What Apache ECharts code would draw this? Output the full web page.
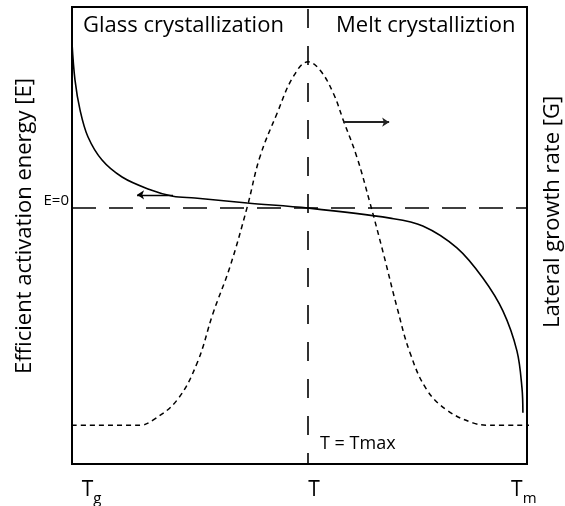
<!DOCTYPE html>
<html>
<head>
<meta charset="utf-8">
<script src="https://cdn.jsdelivr.net/npm/echarts@6/dist/echarts.min.js"></script>
<style>
  html, body { margin: 0; padding: 0; background: #fff; }
  #chart { width: 565px; height: 506px; }
</style>
</head>
<body>
<div id="chart"></div>
<script>
// Temperature on a reduced scale: 0 = Tg, 100 = Tm. Both curves use 0..100 units.
const energyTemp = [0, 0.66, 1.76, 3.5, 6.6, 11.0, 16.7, 22.2, 27.0, 38.5, 51.9, 69.9, 77.1, 84.6, 90.3, 94.7, 97.8, 98.9, 99.1];
const energyValue = [92.1, 84.0, 77.5, 71.6, 66.5, 62.8, 60.2, 58.6, 58.2, 57.1, 56.0, 53.8, 52.1, 47.3, 40.7, 33.5, 24.7, 16.6, 11.2];

const growthTemp = [0, 14.9, 17.8, 23.1, 27.5, 31.0, 34.7, 38.5, 41.3, 45.1, 48.6, 51.9, 54.5, 57.4, 59.6, 62.6, 65.5, 68.4, 71.4, 74.3, 78.0, 82.4, 88.1, 91.9, 101.8];
const growthValue = [8.5, 8.5, 9.6, 14.0, 22.1, 33.0, 43.1, 56.2, 67.2, 76.8, 84.7, 88.0, 86.2, 81.2, 75.3, 67.2, 57.1, 46.2, 34.4, 24.3, 16.2, 11.8, 9.0, 8.5, 8.5];

const T_MAX = 51.9;      // temperature of maximum growth rate
const E_ZERO = 56.0;     // level where the efficient activation energy is zero

const xTickValues = [4.3, 53.2, 99.3];
const xTickLabels = ['{t|T}{s|g}', '{t|T}', '{t|T}{s|m}'];

// Direction arrows: which axis each curve belongs to
const arrowToEnergy = [[22.2, 58.9], [14.3, 58.9]];
const arrowToGrowth = [[59.6, 74.8], [69.7, 74.8]];

const FONT = '"Open Sans", "Noto Sans", sans-serif';

const chart = echarts.init(document.getElementById('chart'), null, { renderer: 'canvas' });

const zip = (xs, ys) => xs.map((x, i) => [x, ys[i]]);

chart.setOption({
  animation: false,
  backgroundColor: '#fff',
  grid: {
    left: 72, right: 38, top: 7, bottom: 42,
    show: true, borderColor: '#000', borderWidth: 2, backgroundColor: 'transparent'
  },
  xAxis: {
    type: 'value', min: 0, max: 100,
    axisLine: { show: false }, axisTick: { show: false }, splitLine: { show: false },
    axisLabel: {
      customValues: xTickValues,
      margin: 20,
      formatter: (v) => xTickLabels[xTickValues.indexOf(v)],
      rich: {
        t: { fontFamily: FONT, fontSize: 21, color: '#000', lineHeight: 22, verticalAlign: 'bottom', padding: [0, 0, 5, 0] },
        s: { fontFamily: FONT, fontSize: 15, color: '#000', lineHeight: 16, verticalAlign: 'bottom' }
      }
    }
  },
  yAxis: [
    {
      type: 'value', min: 0, max: 100,
      axisLine: { show: false }, axisTick: { show: false }, splitLine: { show: false },
      axisLabel: {
        customValues: [E_ZERO], formatter: () => 'E=0', margin: 3,
        fontFamily: FONT, fontSize: 15, color: '#000', verticalAlign: 'bottom'
      }
    },
    {
      type: 'value', min: 0, max: 100, position: 'right',
      axisLine: { show: false }, axisTick: { show: false }, splitLine: { show: false },
      axisLabel: { show: false }
    }
  ],
  series: [
    {
      name: 'Efficient activation energy',
      type: 'line', yAxisIndex: 0,
      data: zip(energyTemp, energyValue),
      smooth: 0.35, showSymbol: false,
      lineStyle: { color: '#000', width: 1.6 },
      markLine: {
        silent: true, symbol: 'none', animation: false,
        label: { show: false },
        data: [
          { yAxis: E_ZERO, lineStyle: { color: '#000', width: 1.6, type: [24, 13] } },
          { xAxis: T_MAX, lineStyle: { color: '#000', width: 1.6, type: [19, 18], dashOffset: 8 } }
        ]
      },
      z: 3
    },
    {
      name: 'Lateral growth rate',
      type: 'line', yAxisIndex: 1, clip: false,
      data: zip(growthTemp, growthValue),
      smooth: 0.4, showSymbol: false,
      lineStyle: { color: '#000', width: 1.5, type: [5, 4] },
      z: 3
    },
    {
      type: 'lines', coordinateSystem: 'cartesian2d', yAxisIndex: 0,
      symbol: ['none', 'arrow'], symbolSize: 7,
      lineStyle: { color: '#000', width: 1.3, opacity: 1 },
      data: [{ coords: arrowToEnergy }],
      z: 4
    },
    {
      type: 'lines', coordinateSystem: 'cartesian2d', yAxisIndex: 1,
      symbol: ['none', 'arrow'], symbolSize: 7,
      lineStyle: { color: '#222', width: 1.8, opacity: 1 },
      data: [{ coords: arrowToGrowth }],
      z: 4
    }
  ],
  graphic: [
    { type: 'text', left: 83, top: 15, style: { text: 'Glass crystallization', font: '22px ' + FONT, fill: '#000' } },
    { type: 'text', left: 336, top: 15, style: { text: 'Melt crystalliztion', font: '22px ' + FONT, fill: '#000' } },
    { type: 'text', left: 320, top: 435, style: { text: 'T = Tmax', font: '18px ' + FONT, fill: '#000' } },
    {
      type: 'text', x: 25, y: 226, rotation: Math.PI / 2,
      style: { text: 'Efficient activation energy [E]', font: '22px ' + FONT, fill: '#000', align: 'center', verticalAlign: 'middle' }
    },
    {
      type: 'text', x: 553, y: 212, rotation: Math.PI / 2,
      style: { text: 'Lateral growth rate [G]', font: '22px ' + FONT, fill: '#000', align: 'center', verticalAlign: 'middle' }
    }
  ]
});
</script>
</body>
</html>
